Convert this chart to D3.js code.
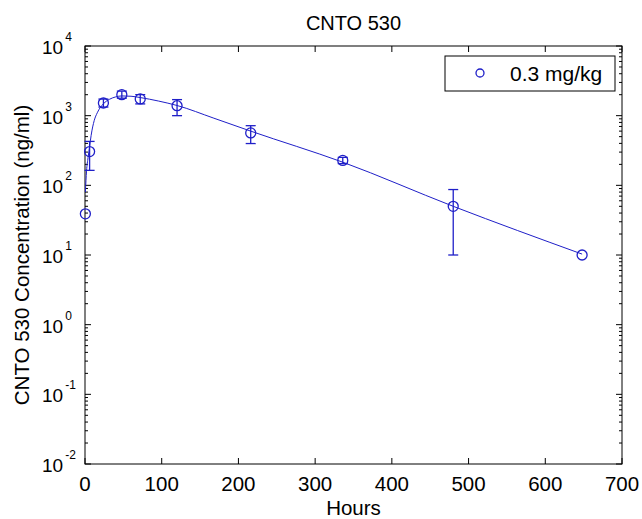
<!DOCTYPE html>
<meta charset="utf-8">
<head>
  <title>CNTO 530</title>
  <script src="https://d3js.org/d3.v7.min.js"></script>
  <style>
    body { margin: 0; background: white; }
    text { font-family: "Liberation Sans", Arial, sans-serif; fill: black; }
    .frame { fill: none; stroke: black; stroke-width: 1; }
  </style>
</head>
<body>
<script>
  // observed points (hours, ng/ml) with error bar ends
  var hours = [0.5, 6, 24, 48, 72, 120, 216, 336, 480, 648];
  var conc  = [39, 305, 1520, 2000, 1740, 1390, 565, 228, 50, 10];
  var errLo = [39, 164, 1330, 1780, 1475, 1000, 398, 205, 10, 10];
  var errHi = [39, 427, 1730, 2250, 2005, 1700, 718, 252, 87, 10];

  // fitted curve
  var fitHours = [0.5, 2, 4, 6, 8, 12, 16, 24, 32, 40, 48, 60, 72, 96, 120, 168, 216, 336, 480, 648];
  var fitConc  = [80, 160, 250, 360, 520, 850, 1100, 1480, 1720, 1860, 1920, 1900, 1820, 1620, 1400, 920, 600, 215, 50, 10.3];

  var xTicks = [0, 100, 200, 300, 400, 500, 600, 700];
  var yExps = [-2, -1, 0, 1, 2, 3, 4];
  var legendLabel = "0.3 mg/kg";

  var W = 642, H = 519;
  var pl = 85, pr = 622, pt = 46, pb = 464;
  var blue = "#1f1fc8";

  var svg = d3.select("body").append("svg")
    .attr("width", W)
    .attr("height", H);

  var x = d3.scaleLinear().domain([0, 700]).range([pl, pr]);
  var y = d3.scaleLog().domain([1e-2, 1e4]).range([pb, pt]);

  // inward ticks on all four sides
  var major = 6, minor = 3;
  var g = svg.append("g").attr("stroke", "black");
  xTicks.forEach(function(t) {
    g.append("line").attr("x1", x(t)).attr("x2", x(t)).attr("y1", pb).attr("y2", pb - major);
    g.append("line").attr("x1", x(t)).attr("x2", x(t)).attr("y1", pt).attr("y2", pt + major);
  });
  yExps.forEach(function(e) {
    var v = Math.pow(10, e);
    g.append("line").attr("x1", pl).attr("x2", pl + major).attr("y1", y(v)).attr("y2", y(v));
    g.append("line").attr("x1", pr).attr("x2", pr - major).attr("y1", y(v)).attr("y2", y(v));
    if (e < 4) {
      for (var m = 2; m <= 9; m++) {
        var mv = m * v;
        g.append("line").attr("x1", pl).attr("x2", pl + minor).attr("y1", y(mv)).attr("y2", y(mv));
        g.append("line").attr("x1", pr).attr("x2", pr - minor).attr("y1", y(mv)).attr("y2", y(mv));
      }
    }
  });

  svg.append("rect").attr("class", "frame")
    .attr("x", pl).attr("y", pt)
    .attr("width", pr - pl).attr("height", pb - pt);

  // x tick labels
  svg.selectAll(".xl").data(xTicks).enter().append("text")
    .attr("class", "xl")
    .attr("x", function(d) { return x(d); })
    .attr("y", 491)
    .attr("text-anchor", "middle")
    .style("font-size", "20.5px")
    .text(function(d) { return d; });

  // y tick labels 10^n
  var yl = svg.selectAll(".yl").data(yExps).enter().append("text")
    .attr("class", "yl")
    .attr("x", 42)
    .attr("y", function(d) { return y(Math.pow(10, d)) + 8; })
    .style("font-size", "19px");
  yl.append("tspan").text("10");
  yl.append("tspan")
    .attr("dx", 2)
    .attr("dy", -13)
    .style("font-size", "12px")
    .text(function(d) { return d < 0 ? "-" + (-d) : d; });

  // title and axis labels
  svg.append("text")
    .attr("x", (pl + pr) / 2).attr("y", 30)
    .attr("text-anchor", "middle")
    .style("font-size", "20px")
    .text("CNTO 530");

  svg.append("text")
    .attr("x", (pl + pr) / 2).attr("y", 515)
    .attr("text-anchor", "middle")
    .style("font-size", "20.5px")
    .text("Hours");

  svg.append("text")
    .attr("transform", "translate(29," + (pt + pb) / 2 + ") rotate(-90)")
    .attr("text-anchor", "middle")
    .style("font-size", "20.5px")
    .text("CNTO 530 Concentration (ng/ml)");

  // fitted curve
  var fit = fitHours.map(function(h, i) { return [h, fitConc[i]]; });
  var line = d3.line()
    .x(function(d) { return x(d[0]); })
    .y(function(d) { return y(d[1]); })
    .curve(d3.curveMonotoneX);
  svg.append("path")
    .datum(fit)
    .attr("d", line)
    .attr("fill", "none")
    .attr("stroke", blue)
    .attr("stroke-width", 1);

  // error bars
  var pts = hours.map(function(h, i) { return { h: h, c: conc[i], lo: errLo[i], hi: errHi[i] }; });
  var eb = svg.append("g").attr("stroke", blue).attr("stroke-width", 1.3);
  var cap = 5;
  pts.forEach(function(d) {
    if (d.hi === d.lo) return;
    eb.append("line").attr("x1", x(d.h)).attr("x2", x(d.h)).attr("y1", y(d.lo)).attr("y2", y(d.hi));
    eb.append("line").attr("x1", x(d.h) - cap).attr("x2", x(d.h) + cap).attr("y1", y(d.lo)).attr("y2", y(d.lo));
    eb.append("line").attr("x1", x(d.h) - cap).attr("x2", x(d.h) + cap).attr("y1", y(d.hi)).attr("y2", y(d.hi));
  });

  // markers
  svg.selectAll(".pt").data(pts).enter().append("circle")
    .attr("class", "pt")
    .attr("cx", function(d) { return x(d.h); })
    .attr("cy", function(d) { return y(d.c); })
    .attr("r", 5)
    .attr("fill", "none")
    .attr("stroke", blue)
    .attr("stroke-width", 1.3);

  // legend
  var lg = svg.append("g");
  lg.append("rect")
    .attr("x", 445).attr("y", 56)
    .attr("width", 170).attr("height", 35)
    .attr("fill", "white").attr("stroke", "black");
  lg.append("circle")
    .attr("cx", 480).attr("cy", 73)
    .attr("r", 4)
    .attr("fill", "none").attr("stroke", blue).attr("stroke-width", 1.3);
  lg.append("text")
    .attr("x", 510).attr("y", 81)
    .style("font-size", "21px")
    .text(legendLabel);
</script>
</body>
</html>
